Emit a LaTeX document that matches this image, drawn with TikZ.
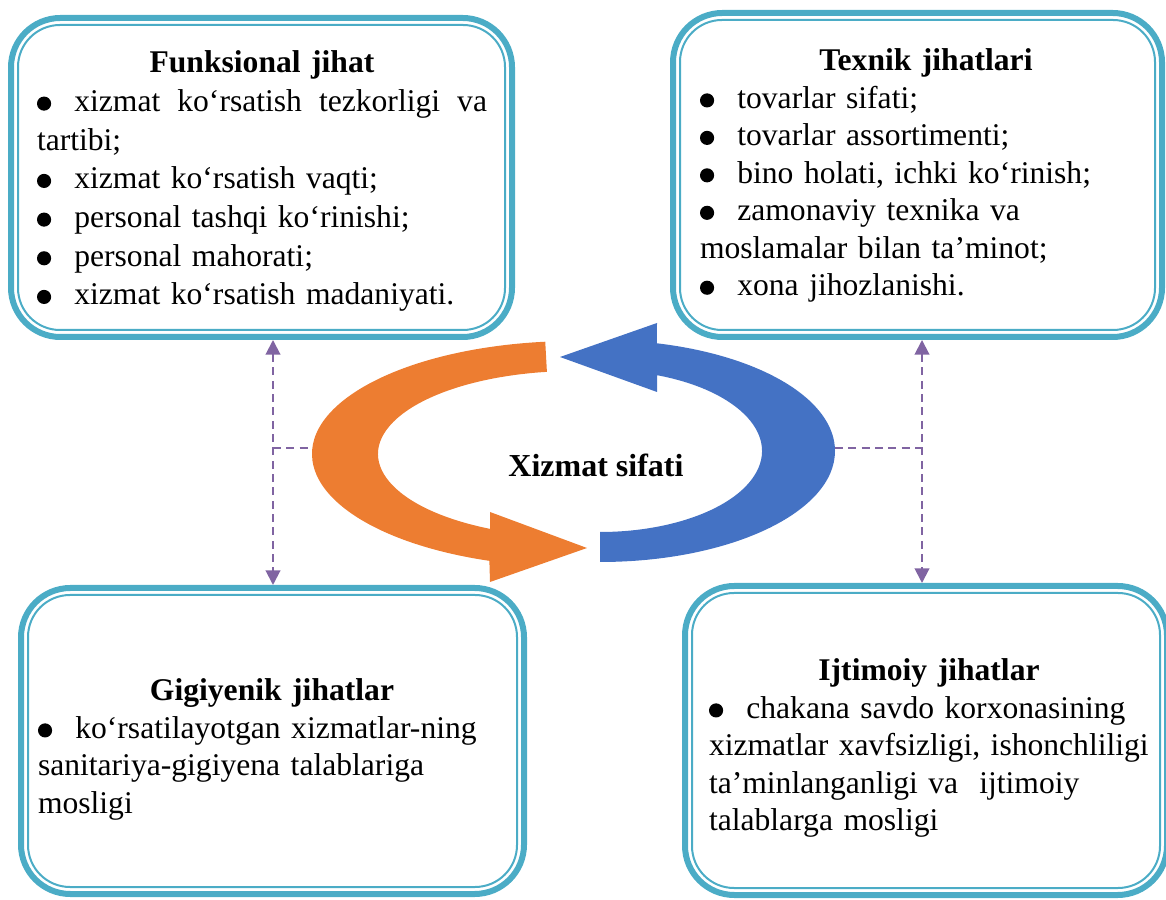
\documentclass[tikz,border=0pt]{standalone}
\usepackage{fontspec}
\setmainfont{Liberation Serif}
\usepackage{xcolor}
\usepackage{tikz}
\usetikzlibrary{arrows.meta}
\definecolor{rim}{HTML}{4BACC6}
\definecolor{orangearc}{HTML}{ED7D31}
\definecolor{bluearc}{HTML}{4472C4}
\definecolor{linkviolet}{HTML}{8064A2}
\setlength{\parindent}{0pt}
\newcommand{\blt}{\makebox[28pt][l]{\tikz[baseline=0pt]\fill (5.4pt,5.8pt) circle[radius=5.3pt];}}

\begin{document}
\begin{tikzpicture}[x=0.75pt, y=0.75pt,
    frame/.style={draw=rim, line width=4.5pt, rounded corners=37pt, inner sep=0pt},
    rimline/.style={draw=rim, line width=1.5pt, rounded corners=31.5pt},
    txt/.style={anchor=north, inner sep=0pt, align=left, font=\fontsize{23.7}{28.1}\selectfont},
    link/.style={draw=linkviolet, line width=1.5pt, dash pattern=on 6pt off 4pt}]
    \useasboundingbox (0,0) rectangle (1166,899);

    % four boxes
    \node[frame, minimum width=375.75pt, minimum height=239.25pt] (tl) at (261.5,721.5) {};
    \node[frame, minimum width=366.75pt, minimum height=243pt] (tr) at (917.5,724) {};
    \node[frame, minimum width=377.25pt, minimum height=229.5pt] (bl) at (272.5,158) {};
    \node[frame, minimum width=361.5pt, minimum height=231.75pt] (br) at (926,158.5) {};
    \foreach \bx in {tl,tr,bl,br}
        \draw[rimline] ([shift={(10,10)}]\bx.south west) rectangle ([shift={(-10,-10)}]\bx.north east);

    \node[txt, text width=337.5pt, font=\fontsize{23.7}{29}\selectfont] (tltext) at (262,848.5) {%
        {\centering\bfseries Funksional jihat\par}
        \leavevmode\hbox to 337.5pt{\blt xizmat \hfil ko‘rsatish \hfil tezkorligi \hfil va}\\
        tartibi;\\
        \blt xizmat ko‘rsatish vaqti;\\
        \blt personal tashqi ko‘rinishi;\\
        \blt personal mahorati;\\
        \blt xizmat ko‘rsatish madaniyati.};
    \node[txt, text width=339pt] (trtext) at (926,850.5) {%
        {\centering\bfseries Texnik jihatlari\par}
        \blt tovarlar sifati;\\
        \blt tovarlar assortimenti;\\
        \blt bino holati, ichki ko‘rinish;\\
        \blt zamonaviy texnika va\\
        moslamalar bilan ta’minot;\\
        \blt xona jihozlanishi.};
    \node[txt, text width=351pt] (bltext) at (272,220.5) {%
        {\centering\bfseries Gigiyenik jihatlar\par}
        \blt ko‘rsatilayotgan xizmatlar-ning\\
        sanitariya-gigiyena talablariga\\
        mosligi};
    \node[txt, text width=330pt] (brtext) at (929,240.5) {%
        {\centering\bfseries Ijtimoiy jihatlar\par}
        \blt chakana savdo korxonasining\\
        xizmatlar xavfsizligi, ishonchliligi\\
        ta’minlanganligi va~ ijtimoiy\\
        talablarga mosligi};

    % circular arrows
    \coordinate (oc) at (575,445);
    \coordinate (bc) at (600,448);
    \fill[orangearc] ([shift={(96.5:263 and 113)}]oc)
        arc[start angle=96.5, end angle=251, x radius=263, y radius=113]
        -- (490,317) -- (587,351) -- (490,387)
        -- ([shift={(244.5:197 and 83)}]oc)
        arc[start angle=244.5, end angle=98.2, x radius=197, y radius=83] -- cycle;
    \fill[bluearc] ([shift={(-90:235 and 111)}]bc)
        arc[start angle=-90, end angle=76, x radius=235, y radius=111]
        -- (657,576) -- (560,542) -- (657,507)
        -- ([shift={(69.4:162 and 81)}]bc)
        arc[start angle=69.4, end angle=-90, x radius=162, y radius=81] -- cycle;
    \node[anchor=base, inner sep=0pt, font=\fontsize{24}{28}\selectfont\bfseries] (core) at (596,422) {Xizmat sifati};

    % dashed links
    \coordinate (ljn) at (273,451);
    \coordinate (rjn) at (922,451);
    \coordinate (oleft) at (312.5,451);
    \coordinate (bright) at (835,451);
    \foreach \src/\dst/\jn in {tl/bl/ljn, tr/br/rjn}
        \draw[link, {Triangle[length=11pt,width=11pt]}-{Triangle[length=11pt,width=11pt]}] (\src.south -| \jn) -- (\dst.north -| \jn);
    \draw[link] (ljn) -- (oleft);
    \draw[link] (bright) -- (rjn);
\end{tikzpicture}
\end{document}
